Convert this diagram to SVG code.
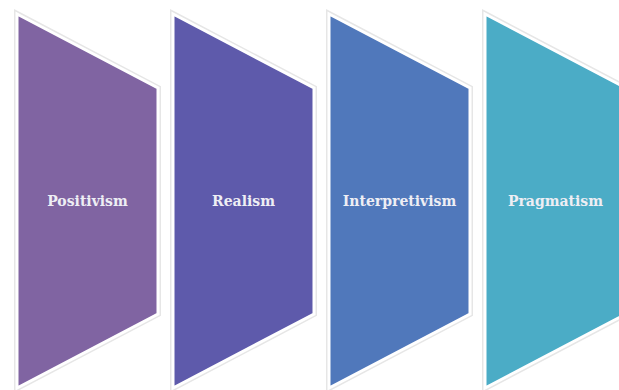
<svg xmlns="http://www.w3.org/2000/svg" width="619" height="390" viewBox="0 0 619 390">
<defs>
<style>
.sh{stroke:#e6e6e6;stroke-width:6;fill:none;stroke-linejoin:miter}
.wh{stroke:#ffffff;stroke-width:3;stroke-linejoin:miter}
.lb{font-family:"DejaVu Serif","Liberation Serif",serif;font-size:14px;font-weight:bold;fill:#eeeef4;text-anchor:middle}
</style>
<polygon id="chev" points="0,0 141,74 141,300 0,374"/>
</defs>
<rect width="619" height="390" fill="#ffffff"/>
<g id="n1" transform="translate(17,14)">
<use href="#chev" class="sh"/>
<use href="#chev" class="wh" fill="#8064A2"/>
<text class="lb" x="70.5" y="192">Positivism</text>
</g>
<g id="n2" transform="translate(173,14)">
<use href="#chev" class="sh"/>
<use href="#chev" class="wh" fill="#5E5AAB"/>
<text class="lb" x="70.5" y="192">Realism</text>
</g>
<g id="n3" transform="translate(329,14)">
<use href="#chev" class="sh"/>
<use href="#chev" class="wh" fill="#5078BB"/>
<text class="lb" x="70.5" y="192">Interpretivism</text>
</g>
<g id="n4" transform="translate(485,14)">
<use href="#chev" class="sh"/>
<use href="#chev" class="wh" fill="#4BACC6"/>
<text class="lb" x="70.5" y="192">Pragmatism</text>
</g>
<g id="connectors"></g>
</svg>
